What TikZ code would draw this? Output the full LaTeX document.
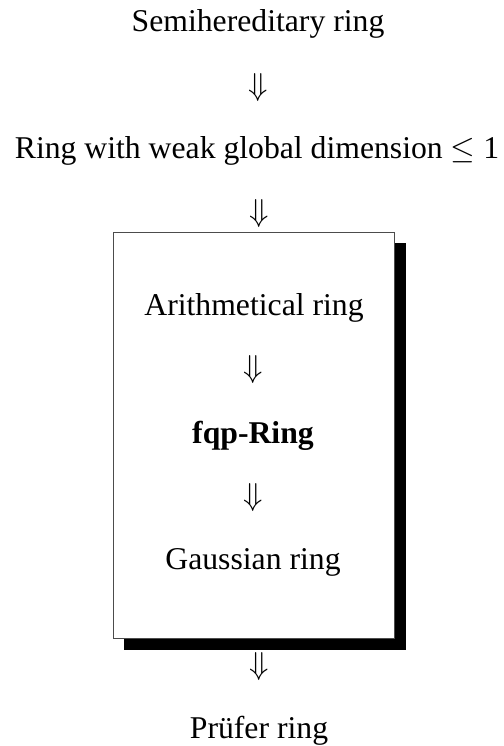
\documentclass[tikz,border=0pt]{standalone}
\usepackage{fix-cm}
\usepackage{fontspec}
\setmainfont{Liberation Serif}
\begin{document}
\begin{tikzpicture}[x=1pt,y=-1pt,
  lbl/.style={inner sep=0pt,anchor=base,font=\fontsize{31.7}{38}\selectfont},
  arr/.style={inner sep=0pt,anchor=center,font=\fontsize{31.7}{38}\selectfont},
  framebox/.style={draw=black!70,line width=0.8pt,fill=white,inner sep=0pt,anchor=north west,minimum width=281pt,minimum height=406pt}]
\useasboundingbox (0,0) rectangle (503,746);
\fill[black] (124,243) rectangle (406,650);
\node[framebox] (box) at (113,232) {};
\node[lbl] (semi) at (258,32) {Semihereditary ring};
\node[arr] (d1) at (258,88) {$\Downarrow$};
\node[lbl] (weak) at (257,159) {Ring with weak global dimension $\leq$ 1};
\node[arr] (d2) at (259,214) {$\Downarrow$};
\node[lbl] (arith) at (254,315) {Arithmetical ring};
\node[arr] (d3) at (253,370) {$\Downarrow$};
\node[lbl] (fqp) at (253,443) {\textbf{fqp-Ring}};
\node[arr] (d4) at (253,498) {$\Downarrow$};
\node[lbl] (gauss) at (253,569) {Gaussian ring};
\node[arr] (d5) at (259,667) {$\Downarrow$};
\node[lbl] (prufer) at (259,738) {Prüfer ring};
\end{tikzpicture}
\end{document}
